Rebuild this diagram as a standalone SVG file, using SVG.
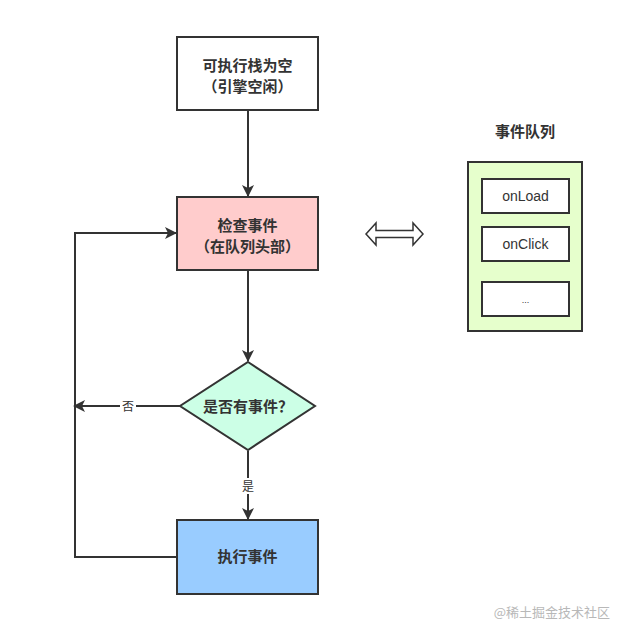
<svg xmlns="http://www.w3.org/2000/svg" width="617" height="629" viewBox="0 0 617 629">
<style>
.n{stroke:#333;stroke-width:2}
.t{font-family:"Noto Sans CJK SC","Liberation Sans",sans-serif;font-size:15px;font-weight:bold;fill:#333;text-anchor:middle}
.s{font-family:"Liberation Sans","Noto Sans CJK SC",sans-serif;font-size:14px;fill:#333;text-anchor:middle}
.l{font-family:"Noto Sans CJK SC",sans-serif;font-size:12px;fill:#333;text-anchor:middle}
.c{fill:none;stroke:#333;stroke-width:2}
</style>
<defs>
<marker id="a" markerWidth="12" markerHeight="12" refX="11" refY="6" orient="auto" markerUnits="userSpaceOnUse" viewBox="0 0 12 12">
<path d="M0,0 L12,6 L0,12 L3,6 Z" fill="#333"/>
</marker>
</defs>
<rect width="617" height="629" fill="#fff"/>
<g id="connectors">
<line class="c" x1="248" y1="111" x2="248" y2="196" marker-end="url(#a)"/>
<line class="c" x1="248" y1="271" x2="248" y2="361" marker-end="url(#a)"/>
<line class="c" x1="248" y1="451" x2="248" y2="519" marker-end="url(#a)"/>
<rect x="240" y="478" width="16" height="16" fill="#fff"/>
<text class="l" x="248" y="491">是</text>
<line class="c" x1="180" y1="406" x2="74" y2="406" marker-end="url(#a)"/>
<rect x="120" y="398" width="16" height="16" fill="#fff"/>
<text class="l" x="128" y="411">否</text>
<polyline class="c" points="177,557 75,557 75,233 176,233" marker-end="url(#a)"/>
<path d="M366,234 L376,223 L376,230.5 L413,230.5 L413,223 L423,234 L413,245 L413,237.5 L376,237.5 L376,245 Z" fill="#fff" stroke="#333" stroke-width="1.5"/>
</g>
<g id="n1">
<rect class="n" x="177" y="37" width="141" height="73" fill="#fff"/>
<text class="t" x="247.5" y="71">可执行栈为空</text>
<text class="t" x="247.5" y="92">（引擎空闲）</text>
</g>
<g id="n2">
<rect class="n" x="177" y="197" width="141" height="73" fill="#ffcccc"/>
<text class="t" x="247.5" y="231">检查事件</text>
<text class="t" x="247.5" y="252">（在队列头部）</text>
</g>
<g id="n3">
<polygon class="n" points="248,362 315,406 248,450 180,406" fill="#ccffe6"/>
<text class="t" x="248" y="412">是否有事件？</text>
</g>
<g id="n4">
<rect class="n" x="177" y="520" width="141" height="74" fill="#99ccff"/>
<text class="t" x="247.5" y="562">执行事件</text>
</g>
<g id="queue">
<text class="t" x="525" y="137">事件队列</text>
<rect class="n" x="468" y="162" width="114" height="169" fill="#e6ffcc"/>
<g id="q1"><rect class="n" x="482" y="179" width="87" height="34" fill="#fff"/><text class="s" x="525.5" y="201">onLoad</text></g>
<g id="q2"><rect class="n" x="482" y="227" width="87" height="34" fill="#fff"/><text class="s" x="525.5" y="249">onClick</text></g>
<g id="q3"><rect class="n" x="482" y="282" width="87" height="34" fill="#fff"/><text class="s" x="525.5" y="303" style="font-size:9px">...</text></g>
</g>
<text x="610" y="617" style="font-family:'Noto Sans CJK SC',sans-serif;font-size:13px;fill:#b8b8b8;text-anchor:end">@稀土掘金技术社区</text>
</svg>
